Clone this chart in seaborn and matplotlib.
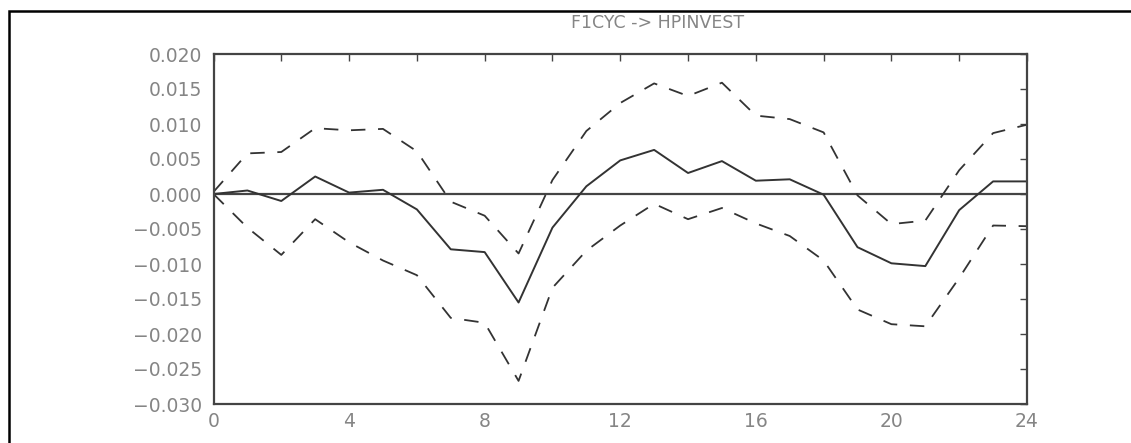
import numpy as np
import pandas as pd
import seaborn as sns
import matplotlib
matplotlib.use("Agg")
import matplotlib.pyplot as plt
from matplotlib.patches import Rectangle

# Impulse response of HPINVEST to an F1CYC shock, with error bands
steps = list(range(25))
response = [0.0, 0.0005, -0.0010, 0.0025, 0.0002, 0.0006, -0.0022, -0.0079, -0.0083,
            -0.0155, -0.0048, 0.0011, 0.0048, 0.0063, 0.0030, 0.0047, 0.0019, 0.0021,
            -0.0001, -0.0076, -0.0099, -0.0103, -0.0023, 0.0018, 0.0018]
upper = [0.0003, 0.0058, 0.0060, 0.0094, 0.0091, 0.0093, 0.0061, -0.0011, -0.0031,
         -0.0085, 0.0020, 0.0090, 0.0130, 0.0158, 0.0140, 0.0159, 0.0112, 0.0107,
         0.0088, -0.0002, -0.0043, -0.0038, 0.0034, 0.0087, 0.0099]
lower = [0.0, -0.0048, -0.0087, -0.0036, -0.0069, -0.0095, -0.0116, -0.0177, -0.0184,
         -0.0267, -0.0134, -0.0081, -0.0045, -0.0014, -0.0036, -0.0020, -0.0042, -0.0060,
         -0.0095, -0.0165, -0.0186, -0.0189, -0.0120, -0.0045, -0.0046]
title = "F1CYC -> HPINVEST"
y_ticks = [0.020, 0.015, 0.010, 0.005, 0.000, -0.005, -0.010, -0.015, -0.020, -0.025, -0.030]
x_label_ticks = [0, 4, 8, 12, 16, 20, 24]

df = pd.DataFrame({"step": steps, "response": response, "upper": upper, "lower": lower})

sns.set_theme(style="white")
plt.rcParams["font.family"] = ["DejaVu Sans"]

line_col = "#333333"
text_col = "#858585"

fig = plt.figure(figsize=(11.31, 4.43), dpi=100)
ax = fig.add_axes([213.5 / 1131, 39 / 443, (1027 - 213.5) / 1131, (404 - 54) / 443])

ax.axhline(0, color="#444444", lw=1.6, zorder=1)
sns.lineplot(data=df, x="step", y="response", ax=ax, color=line_col, lw=1.4)
for col in ["upper", "lower"]:
    sns.lineplot(data=df, x="step", y=col, ax=ax, color=line_col, lw=1.3,
                 dashes=False, linestyle=(0, (8, 7)))

ax.set_xlim(0, 24)
ax.set_ylim(-0.030, 0.020)
ax.set_xlabel("")
ax.set_ylabel("")

ax.set_yticks(y_ticks)
ax.set_yticklabels([f"{v:.3f}".replace("-", "\u2212") for v in y_ticks])
ax.set_xticks(x_label_ticks)
ax.set_xticklabels([str(v) for v in x_label_ticks])
ax.set_xticks(list(range(2, 24, 4)), minor=True)

ax.tick_params(axis="both", which="both", direction="in", top=True, right=True,
               color="#444444", width=1.0, labelcolor=text_col, labelsize=13.5)
ax.tick_params(axis="both", which="major", length=5)
ax.tick_params(axis="x", which="minor", length=5)
ax.tick_params(axis="y", which="major", pad=8)
ax.tick_params(axis="x", which="major", pad=6)

for s in ax.spines.values():
    s.set_visible(True)
    s.set_color("#444444")
    s.set_linewidth(1.6)

fig.text(658 / 1131, 1 - 23 / 443, title, ha="center", va="center",
         color=text_col, fontsize=12.5)

# outer frame around the plot
fig.patches.append(Rectangle((9 / 1131, -0.2), 1.2, 1.2 - 11 / 443, transform=fig.transFigure,
                             fill=False, edgecolor="black", lw=1.8))

fig.savefig("out.png", dpi=100, facecolor="white")
